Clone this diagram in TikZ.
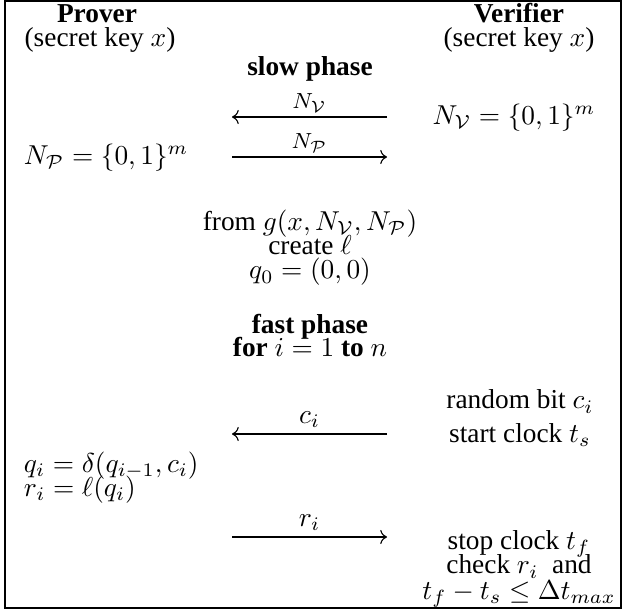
\documentclass[tikz,border=0pt]{standalone}
\usepackage[no-math]{fontspec}
\setmainfont{Liberation Serif}
\usetikzlibrary{arrows.meta}
\begin{document}
\begin{tikzpicture}[x=0.3657pt,y=-0.3657pt,
  txt/.style={anchor=base,inner sep=0pt,outer sep=0pt},
  lbl/.style={above=1.5pt,inner sep=0pt,font=\footnotesize},
  lblbig/.style={above=2pt,inner sep=0pt},
  msg/.style={line width=0.4pt,-{Computer Modern Rightarrow}}]
\useasboundingbox (0,0) rectangle (626,615);
\draw[line width=0.5pt] (5,1) rectangle (621,608);
% headers
\node[txt] (prover) at (97,22) {\textbf{Prover}};
\node[txt] (pkey) at (100,47) {(secret key $x$)};
\node[txt] (verifier) at (519,22) {\textbf{Verifier}};
\node[txt] (vkey) at (519,47) {(secret key $x$)};
% slow phase
\node[txt] (slow) at (310,76) {\textbf{slow phase}};
\coordinate (a1r) at (387,117);
\coordinate (a1l) at (232,117);
\draw[msg] (a1r) -- node[lbl] (lnv) {$N_{\mathcal V}$} (a1l);
\node[txt] (nveq) at (514,124) {$N_{\mathcal V}=\{0,1\}^m$};
\coordinate (a2l) at (232,157);
\coordinate (a2r) at (387,157);
\draw[msg] (a2l) -- node[lbl] (lnp) {$N_{\mathcal P}$} (a2r);
\node[txt,anchor=base west] (npeq) at (24,164) {$N_{\mathcal P}=\{0,1\}^m$};
% key derivation
\node[txt] (from) at (310,230) {from $g(x,N_{\mathcal V},N_{\mathcal P})$};
\node[txt] (create) at (310,254) {create $\ell$};
\node[txt] (q0) at (310,279) {$q_0=(0,0)$};
% fast phase
\node[txt] (fast) at (310,333) {\textbf{fast phase}};
\node[txt] (for) at (310,357) {\textbf{for} $i=1$ \textbf{to} $n$};
\node[txt] (rand) at (520,409) {random bit $c_i$};
\coordinate (a3r) at (387,434);
\coordinate (a3l) at (232,434);
\draw[msg] (a3r) -- node[lblbig] (lci) {$c_i$} (a3l);
\node[txt] (start) at (520,442) {start clock $t_s$};
\node[txt,anchor=base west] (qi) at (24,472) {$q_i=\delta(q_{i-1},c_i)$};
\node[txt,anchor=base west] (ri) at (24,496) {$r_i=\ell(q_i)$};
\coordinate (a4l) at (232,537);
\coordinate (a4r) at (387,537);
\draw[msg] (a4l) -- node[lblbig] (lri) {$r_i$} (a4r);
\node[txt] (stop) at (519,549) {stop clock $t_f$};
\node[txt] (check) at (519,574) {check $r_i$ \ and};
\node[txt] (ineq) at (519,599) {$t_f-t_s\le\Delta t_{max}$};
\end{tikzpicture}
\end{document}
